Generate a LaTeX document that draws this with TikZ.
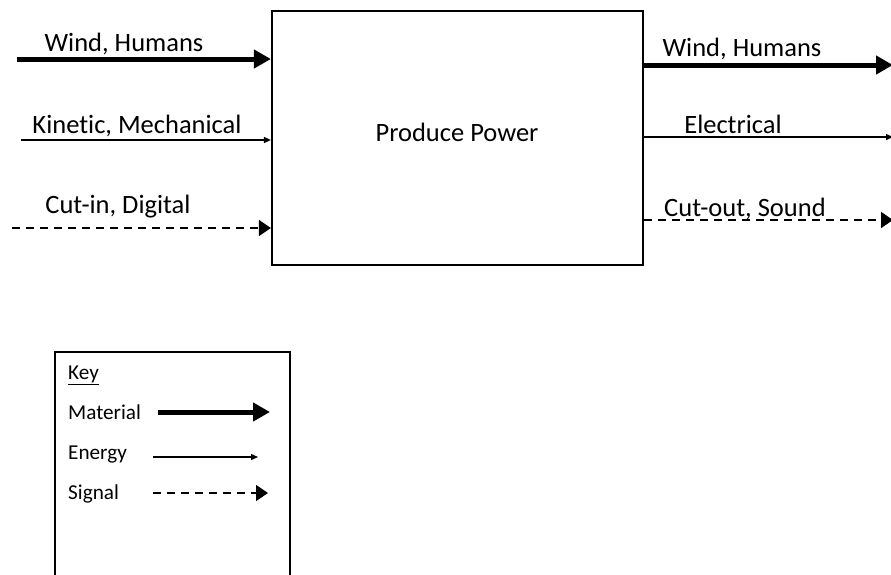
\documentclass[tikz,border=0pt]{standalone}
\usepackage{fontspec}
\setmainfont[Ligatures=NoCommon]{Carlito}
\usetikzlibrary{arrows.meta}
\begin{document}
\begin{tikzpicture}[x=1pt,y=-1pt,
  material/.style={line width=5pt,-{Triangle[length=17pt,width=18pt]}},
  energy/.style={line width=1.3pt,-{Triangle[length=7pt,width=6pt]}},
  signal/.style={line width=1.5pt,dash pattern=on 8pt off 6pt,-{Triangle[length=12pt,width=16pt]}},
  lbl/.style={font=\fontsize{26.5}{30}\selectfont,inner sep=0pt,anchor=base},
  keylbl/.style={font=\fontsize{21.2}{25}\selectfont,inner sep=0pt,anchor=base west},
  boxstyle/.style={draw,line width=2.2pt,inner sep=0pt}]
\useasboundingbox (0,0) rectangle (891,574);
\fill[white] (0,0) rectangle (891,574);
% main box
\node[boxstyle,minimum width=371pt,minimum height=254pt] (box) at (457.5,138) {};
\node[lbl] (pp) at (457,141) {Produce Power};
% inputs
\coordinate (i1) at (17,59);
\coordinate (i2) at (21,140);
\coordinate (i3) at (12,228);
\draw[material] (i1) -- (box.west |- i1);
\draw[energy] (i2) -- (box.west |- i2);
\draw[signal] (i3) -- (box.west |- i3);
\node[lbl] (l1) at (124,51) {Wind, Humans};
\node[lbl] (l2) at (137,133) {Kinetic, Mechanical};
\node[lbl] (l3) at (118,213) {Cut-in, Digital};
% outputs
\coordinate (o1) at (893,65);
\coordinate (o2) at (893,137);
\coordinate (o3) at (893,220);
\draw[material] (box.east |- o1) -- (o1);
\draw[energy] (box.east |- o2) -- (o2);
\draw[signal] (box.east |- o3) -- (o3);
\node[lbl] (r1) at (742,56) {Wind, Humans};
\node[lbl] (r2) at (733,133) {Electrical};
\node[lbl] (r3) at (745,216) {Cut-out, Sound};
% key
\coordinate (kb1) at (55,576);
\coordinate (kt1) at (55,352);
\coordinate (kt2) at (290,352);
\coordinate (kb2) at (290,576);
\draw[line width=1.6pt] (kb1) -- (kt1) -- (kt2) -- (kb2);
\node[keylbl] (kk) at (68,379) {\underline{Key}};
\node[keylbl] (km) at (68,419) {Material};
\node[keylbl] (ke) at (68,459) {Energy};
\node[keylbl] (ks) at (68,499) {Signal};
\coordinate (ma) at (158,412);
\coordinate (mb) at (270,412);
\coordinate (ea) at (153,457);
\coordinate (eb) at (258,457);
\coordinate (sa) at (153,493);
\coordinate (sb) at (268,493);
\draw[material] (ma) -- (mb);
\draw[energy] (ea) -- (eb);
\draw[signal] (sa) -- (sb);
\end{tikzpicture}
\end{document}
